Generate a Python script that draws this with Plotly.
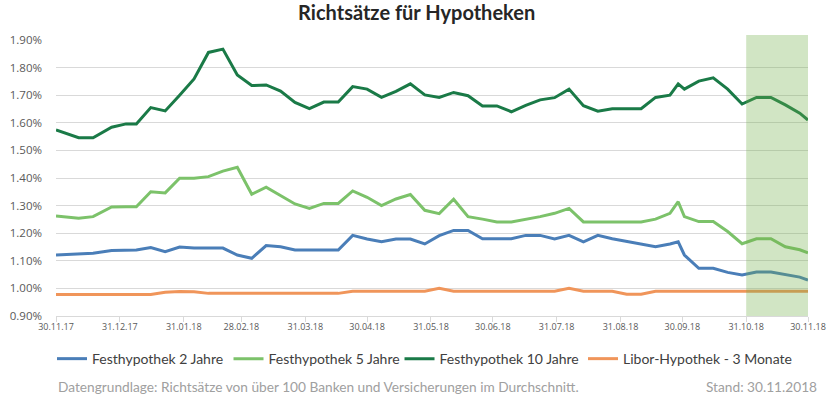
import plotly.graph_objects as go

dates = ["2017-11-30","2017-12-11","2017-12-18","2017-12-27","2018-01-03","2018-01-08",
         "2018-01-15","2018-01-22","2018-01-29","2018-02-05","2018-02-12","2018-02-19",
         "2018-02-26","2018-03-05","2018-03-12","2018-03-19","2018-03-26","2018-04-02",
         "2018-04-09","2018-04-16","2018-04-23","2018-04-30","2018-05-07","2018-05-14",
         "2018-05-21","2018-05-28","2018-06-04","2018-06-11","2018-06-18","2018-06-25",
         "2018-07-02","2018-07-09","2018-07-16","2018-07-23","2018-07-30","2018-08-06",
         "2018-08-13","2018-08-20","2018-08-27","2018-09-03","2018-09-10","2018-09-17",
         "2018-09-24","2018-09-28","2018-10-01","2018-10-08","2018-10-15","2018-10-22",
         "2018-10-29","2018-11-05","2018-11-12","2018-11-19","2018-11-26","2018-11-30"]

fest_2 = [1.121,1.125,1.127,1.137,1.139,1.139,1.148,1.133,1.150,1.146,1.146,1.146,
          1.121,1.109,1.155,1.151,1.139,1.139,1.139,1.139,1.192,1.179,1.169,1.179,
          1.179,1.161,1.191,1.210,1.210,1.180,1.180,1.180,1.192,1.192,1.179,1.192,
          1.169,1.192,1.180,1.171,1.161,1.151,1.161,1.169,1.121,1.073,1.073,1.058,
          1.049,1.059,1.059,1.050,1.041,1.030]

fest_5 = [1.262,1.254,1.260,1.295,1.296,1.296,1.350,1.346,1.399,1.399,1.405,1.425,
          1.439,1.341,1.367,1.336,1.306,1.290,1.308,1.308,1.353,1.330,1.300,1.324,
          1.340,1.283,1.271,1.323,1.260,1.251,1.241,1.241,1.250,1.260,1.272,1.290,
          1.241,1.241,1.241,1.241,1.241,1.251,1.272,1.314,1.260,1.242,1.242,1.206,
          1.162,1.180,1.180,1.151,1.140,1.129]

fest_10 = [1.574,1.546,1.546,1.584,1.596,1.596,1.655,1.643,1.700,1.759,1.855,1.867,
           1.773,1.735,1.737,1.715,1.674,1.651,1.675,1.675,1.731,1.722,1.692,1.714,
           1.741,1.701,1.692,1.710,1.698,1.661,1.661,1.640,1.663,1.683,1.691,1.722,
           1.662,1.642,1.651,1.651,1.651,1.692,1.700,1.741,1.722,1.751,1.763,1.722,
           1.668,1.692,1.692,1.665,1.635,1.610]

libor_3m = [0.978,0.978,0.978,0.978,0.978,0.978,0.978,0.986,0.989,0.988,0.982,0.982,
            0.982,0.982,0.982,0.982,0.982,0.982,0.982,0.982,0.990,0.990,0.990,0.990,
            0.990,0.990,1.000,0.990,0.990,0.990,0.990,0.990,0.990,0.990,0.990,1.000,
            0.990,0.990,0.990,0.979,0.979,0.990,0.990,0.990,0.990,0.990,0.990,0.990,
            0.990,0.990,0.990,0.990,0.990,0.990]

series_names = ["Festhypothek 2 Jahre", "Festhypothek 5 Jahre",
                "Festhypothek 10 Jahre", "Libor-Hypothek - 3 Monate"]
series_values = [fest_2, fest_5, fest_10, libor_3m]
series_colors = ["#4a7eb8", "#7cc26a", "#1a7a47", "#f0955a"]

tick_dates = ["2017-11-30","2017-12-31","2018-01-31","2018-02-28","2018-03-31","2018-04-30",
              "2018-05-31","2018-06-30","2018-07-31","2018-08-31","2018-09-30","2018-10-31",
              "2018-11-30"]
tick_labels = ["30.11.17","31.12.17","31.01.18","28.02.18","31.03.18","30.04.18",
               "31.05.18","30.06.18","31.07.18","31.08.18","30.09.18","31.10.18","30.11.18"]
y_ticks = [0.9, 1.0, 1.1, 1.2, 1.3, 1.4, 1.5, 1.6, 1.7, 1.8, 1.9]
y_tick_labels = ["0.90%", "1.00%", "1.10%", "1.20%", "1.30%", "1.40%",
                 "1.50%", "1.60%", "1.70%", "1.80%", "1.90%"]

highlight_start = "2018-10-31"
highlight_end = "2018-11-30"

legend_ids = ["legend", "legend2", "legend3", "legend4"]
legend_x = [-0.0053, 0.2294, 0.4568, 0.7008]

fig = go.Figure()
for name, vals, col, lid in zip(series_names, series_values, series_colors, legend_ids):
    fig.add_trace(go.Scatter(x=dates, y=vals, mode="lines", name=name, legend=lid,
                             line=dict(color=col, width=3)))

fig.add_shape(type="rect", xref="x", yref="paper", x0=highlight_start, x1=highlight_end,
              y0=0, y1=1.018, fillcolor="rgba(112,173,71,0.32)", line=dict(width=0),
              layer="above")

foot_font = dict(family="Lato", size=13.7, color="#a0a0a0")
fig.add_annotation(text="Datengrundlage: Richtsätze von über 100 Banken und Versicherungen im Durchschnitt.",
                   xref="paper", yref="paper", x=0.0, y=-0.254, xanchor="left", yanchor="middle",
                   showarrow=False, font=foot_font)
fig.add_annotation(text="Stand: 30.11.2018",
                   xref="paper", yref="paper", x=1.0146, y=-0.254, xanchor="right", yanchor="middle",
                   showarrow=False, font=foot_font)

legend_style = dict(orientation="h", xanchor="left", y=-0.098, yanchor="top",
                    font=dict(family="Lato", size=14, color="#404040"),
                    itemwidth=30, bgcolor="rgba(0,0,0,0)")
legends = {lid: dict(legend_style, x=lx) for lid, lx in zip(legend_ids, legend_x)}

fig.update_layout(
    width=830, height=397,
    margin=dict(l=56, r=22, t=40, b=81),
    paper_bgcolor="white", plot_bgcolor="white",
    title=dict(text="<b>Richtsätze für Hypotheken</b>", x=0.502, xanchor="center",
               y=0.967, yanchor="middle",
               font=dict(family="Lato", size=20, color="#262626")),
    showlegend=True,
    **legends,
    xaxis=dict(type="date", range=[dates[0], dates[-1]], tickvals=tick_dates, ticktext=tick_labels,
               showgrid=False, showline=True, linecolor="#d9d9d9", linewidth=1,
               ticks="outside", ticklen=5, tickcolor="#d9d9d9", automargin=False,
               ticklabelstandoff=-3,
               tickfont=dict(family="Open Sans", size=9, color="#595959"), zeroline=False),
    yaxis=dict(range=[0.9, 1.9], tickvals=y_ticks, ticktext=y_tick_labels,
               showgrid=True, gridcolor="#d9d9d9", gridwidth=1, zeroline=False,
               showline=False, ticks="", automargin=False, ticklabelstandoff=13,
               tickfont=dict(family="Open Sans", size=11.5, color="#595959")),
)

fig.write_html("out.html", config={"displayModeBar": False},
               post_script="document.body.style.margin='0';")
